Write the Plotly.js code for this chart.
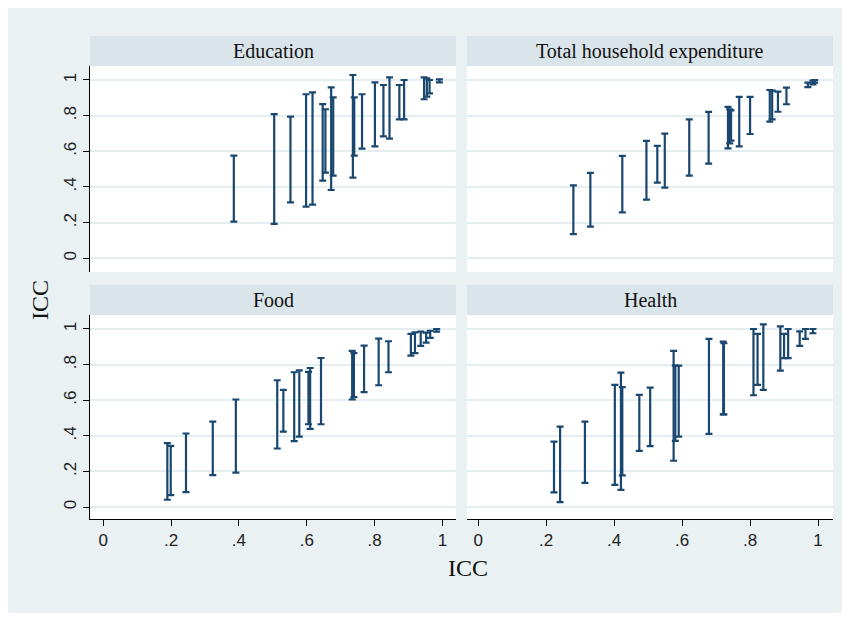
<!DOCTYPE html>
<html>
<head>
<meta charset="utf-8">
<script src="https://cdn.plot.ly/plotly-3.0.1.min.js"></script>
<style>html,body{margin:0;padding:0;background:#fff;}#chart{width:850px;height:621px;}</style>
</head>
<body>
<div id="chart"></div>
<script>
// ---- Data (ICC lower / upper bounds plotted against ICC) ----
const panelTitles = ["Education", "Total household expenditure", "Food", "Health"];
const tickVals = [0, 0.2, 0.4, 0.6, 0.8, 1];
const tickText = ["0", ".2", ".4", ".6", ".8", "1"];

const eduX  = [0.385,0.504,0.552,0.598,0.617,0.647,0.655,0.672,0.678,0.736,0.740,0.763,0.801,0.826,0.844,0.873,0.887,0.946,0.954,0.962,0.991];
const eduLo = [0.206,0.193,0.314,0.290,0.301,0.436,0.480,0.383,0.464,0.452,0.576,0.615,0.628,0.684,0.671,0.779,0.779,0.892,0.907,0.925,0.987];
const eduHi = [0.576,0.809,0.794,0.920,0.931,0.865,0.836,0.959,0.903,1.028,0.903,0.920,0.987,0.972,1.015,0.972,1.000,1.015,1.009,1.000,1.004];

const totX  = [0.280,0.330,0.424,0.495,0.527,0.549,0.621,0.678,0.735,0.740,0.744,0.768,0.800,0.858,0.865,0.882,0.907,0.970,0.985,0.990];
const totLo = [0.136,0.178,0.258,0.329,0.424,0.396,0.464,0.531,0.617,0.645,0.660,0.628,0.697,0.766,0.779,0.822,0.864,0.960,0.975,0.985];
const totHi = [0.409,0.479,0.574,0.658,0.630,0.699,0.779,0.821,0.849,0.836,0.830,0.905,0.905,0.944,0.940,0.935,0.957,0.985,0.996,1.000];

const foodX  = [0.189,0.199,0.244,0.323,0.391,0.513,0.531,0.563,0.578,0.605,0.610,0.642,0.734,0.739,0.769,0.812,0.841,0.907,0.919,0.936,0.952,0.964,0.983];
const foodLo = [0.041,0.067,0.084,0.179,0.193,0.329,0.424,0.370,0.396,0.465,0.439,0.465,0.604,0.617,0.645,0.684,0.757,0.850,0.864,0.905,0.923,0.950,0.985];
const foodHi = [0.359,0.344,0.413,0.480,0.604,0.712,0.658,0.757,0.768,0.759,0.781,0.837,0.877,0.864,0.907,0.946,0.931,0.972,0.981,0.985,0.979,0.990,1.000];

const healthX  = [0.223,0.241,0.314,0.402,0.420,0.424,0.474,0.506,0.575,0.580,0.590,0.679,0.721,0.723,0.810,0.822,0.839,0.889,0.900,0.912,0.946,0.963,0.985];
const healthLo = [0.082,0.028,0.136,0.125,0.097,0.178,0.316,0.342,0.260,0.372,0.396,0.411,0.520,0.520,0.628,0.686,0.658,0.766,0.836,0.836,0.905,0.944,0.976];
const healthHi = [0.368,0.452,0.480,0.686,0.755,0.673,0.630,0.671,0.877,0.794,0.794,0.944,0.929,0.920,1.000,0.972,1.026,1.015,0.972,1.000,0.987,1.000,1.000];

// ---- Build traces ----
const barColor = "#1a476f";
function barTrace(x, lo, hi, xa, ya) {
  return {
    type: "scatter", mode: "markers", x: x, y: lo,
    xaxis: xa, yaxis: ya, hoverinfo: "skip", showlegend: false,
    marker: {size: 1, opacity: 0},
    error_y: {
      type: "data", symmetric: false,
      array: hi.map((h, i) => h - lo[i]),
      arrayminus: lo.map(() => 0),
      color: barColor, thickness: 2.2, width: 3.5
    }
  };
}
const data = [
  barTrace(eduX, eduLo, eduHi, "x", "y"),
  barTrace(totX, totLo, totHi, "x2", "y2"),
  barTrace(foodX, foodLo, foodHi, "x3", "y3"),
  barTrace(healthX, healthLo, healthHi, "x4", "y4")
];

const W = 850, H = 621;
const px = v => v / W;
const py = v => 1 - v / H;

const tickFont = {family: "Liberation Sans, Arial, sans-serif", size: 17, color: "#222"};
const gridColor = "#e4edf0";

function xAxis(domL, domR, rng, anchor, bottom) {
  return {
    domain: [px(domL), px(domR)], range: rng, anchor: anchor,
    tickvals: tickVals, ticktext: tickText, showgrid: false, zeroline: false,
    showline: bottom, linecolor: "#000", linewidth: 1,
    ticks: bottom ? "outside" : "", ticklen: 6, tickcolor: "#000", tickwidth: 1,
    showticklabels: bottom, tickfont: tickFont, fixedrange: true
  };
}
function yAxis(domTop, domBot, rng, anchor, left) {
  return {
    domain: [py(domBot), py(domTop)], range: rng, anchor: anchor,
    tickvals: tickVals, ticktext: tickText, tickangle: -90,
    showgrid: true, gridcolor: gridColor, gridwidth: 2, zeroline: false,
    showline: left, linecolor: "#000", linewidth: 1,
    ticks: left ? "outside" : "", ticklen: 6, tickcolor: "#000", tickwidth: 1,
    showticklabels: left, tickfont: tickFont, fixedrange: true
  };
}

const L = [90, 456], R = [467, 833];
const T = [66, 272], B = [315, 519];

const stripFill = "#d9e5ea";
const serif = "Liberation Serif, Times New Roman, serif";
const strips = [
  [L, 36, 66, panelTitles[0]],
  [R, 36, 66, panelTitles[1]],
  [L, 285, 315, panelTitles[2]],
  [R, 285, 315, panelTitles[3]]
];
const shapes = strips.map(s => ({
  type: "rect", xref: "paper", yref: "paper", layer: "below",
  x0: px(s[0][0]), x1: px(s[0][1]), y0: py(s[2]), y1: py(s[1]),
  fillcolor: stripFill, line: {width: 0}
}));
// white outer frame
shapes.push({type: "rect", xref: "paper", yref: "paper", layer: "above",
  x0: 0, x1: 1, y0: 0, y1: 1, fillcolor: "rgba(0,0,0,0)", line: {color: "#ffffff", width: 16}});

const annotations = strips.map(s => ({
  xref: "paper", yref: "paper", x: px((s[0][0] + s[0][1]) / 2), y: py((s[1] + s[2]) / 2),
  text: s[3], showarrow: false, xanchor: "center", yanchor: "middle",
  font: {family: serif, size: 20, color: "#111"}
}));
annotations.push({xref: "paper", yref: "paper", x: px(468), y: py(568), text: "ICC",
  showarrow: false, xanchor: "center", yanchor: "middle", font: {family: serif, size: 24, color: "#111"}});
annotations.push({xref: "paper", yref: "paper", x: px(40), y: py(300), text: "ICC", textangle: -90,
  showarrow: false, xanchor: "center", yanchor: "middle", font: {family: serif, size: 24, color: "#111"}});

const layout = {
  width: W, height: H,
  margin: {l: 0, r: 0, t: 0, b: 0},
  paper_bgcolor: "#eaf1f3", plot_bgcolor: "#ffffff",
  showlegend: false,
  xaxis:  xAxis(L[0], L[1], [-0.039, 1.040], "y", false),
  xaxis2: xAxis(R[0], R[1], [-0.033, 1.044], "y2", false),
  xaxis3: xAxis(L[0], L[1], [-0.039, 1.040], "y3", true),
  xaxis4: xAxis(R[0], R[1], [-0.033, 1.044], "y4", true),
  yaxis:  yAxis(T[0], T[1], [-0.077, 1.0785], "x", true),
  yaxis2: yAxis(T[0], T[1], [-0.077, 1.0785], "x2", false),
  yaxis3: yAxis(B[0], B[1], [-0.067, 1.0785], "x3", true),
  yaxis4: yAxis(B[0], B[1], [-0.067, 1.0785], "x4", false),
  shapes: shapes,
  annotations: annotations
};

Plotly.newPlot("chart", data, layout, {displayModeBar: false, staticPlot: true});
</script>
</body>
</html>
